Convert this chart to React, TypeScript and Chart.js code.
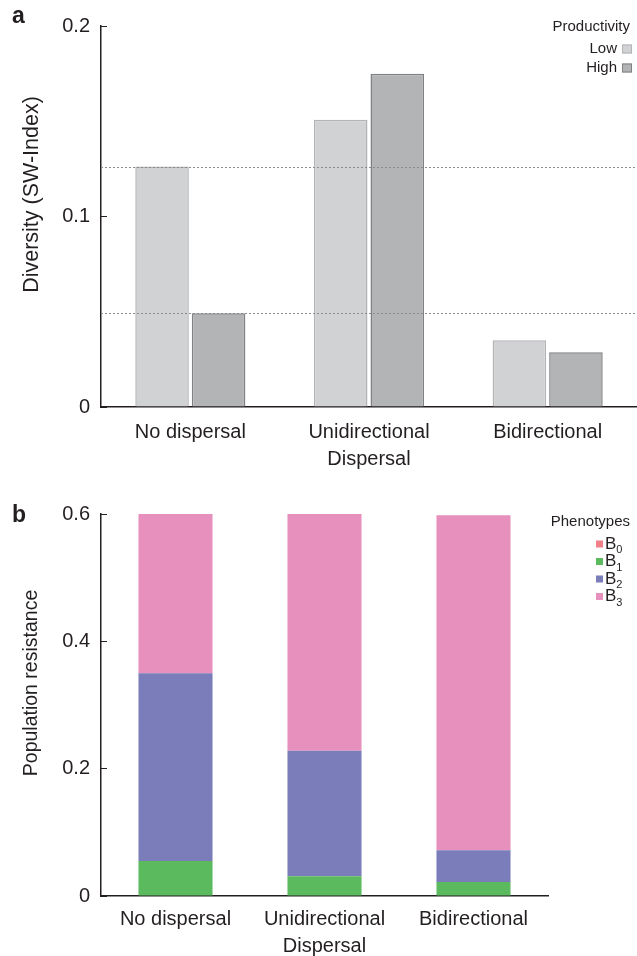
import React, { useEffect, useRef } from "react";
import { Chart, registerables } from "chart.js";
Chart.register(...registerables);

const FONT = "'Liberation Sans', Arial, Helvetica, sans-serif";
const TEXT = "#231f20";

// Panel a
const categoriesA: (string | string[])[] = ["No dispersal", ["Unidirectional", "Dispersal"], "Bidirectional"];
const lowValues = [0.1262, 0.1508, 0.0351];
const highValues = [0.0492, 0.1749, 0.0288];
const yTicksA = [0, 0.1, 0.2];
const referenceValues = [0.1262, 0.0492];
const seriesA = ["Low", "High"];

// Panel b
const categoriesB: (string | string[])[] = ["No dispersal", ["Unidirectional", "Dispersal"], "Bidirectional"];
const b0Values = [0, 0, 0];
const b1Values = [0.055, 0.031, 0.022];
const b2Values = [0.295, 0.197, 0.05];
const b3Values = [0.25, 0.372, 0.526];
const yTicksB = [0, 0.2, 0.4, 0.6];
const phenotypeSubs = ["0", "1", "2", "3"];

const fmt = (v: number) => (v === 0 ? "0" : String(v));

function makePanelPlugin(opts: {
  letter: string;
  dy: number;
  letterY: number;
  yTitle: string;
  yTitleSize: number;
  refLines?: number[];
  legend: "a" | "b";
}) {
  const dy = opts.dy;
  return {
    id: "panelDecor" + opts.letter,
    afterDatasetsDraw(chart: any) {
      const ctx = chart.ctx;
      const y = chart.scales.y;
      const area = chart.chartArea;
      if (opts.refLines) {
        ctx.save();
        ctx.strokeStyle = "#8c8c8c";
        ctx.lineWidth = 1;
        ctx.setLineDash([2, 2]);
        opts.refLines.forEach((v) => {
          const py = Math.round(y.getPixelForValue(v)) + 0.5;
          ctx.beginPath();
          ctx.moveTo(area.left, py);
          ctx.lineTo(area.right, py);
          ctx.stroke();
        });
        ctx.restore();
      }
    },
    afterDraw(chart: any) {
      const ctx = chart.ctx;
      const area = chart.chartArea;
      ctx.save();
      ctx.fillStyle = TEXT;
      // panel letter
      ctx.font = `bold 23px ${FONT}`;
      ctx.textAlign = "left";
      ctx.textBaseline = "middle";
      ctx.fillText(opts.letter, 12, opts.letterY + dy);
      // y title
      ctx.save();
      ctx.font = `${opts.yTitleSize}px ${FONT}`;
      ctx.translate(32, (area.top + area.bottom) / 2 - 22);
      ctx.rotate(-Math.PI / 2);
      ctx.textAlign = "center";
      ctx.textBaseline = "middle";
      ctx.fillText(opts.yTitle, 0, 0);
      ctx.restore();
      // legend
      const ds = chart.data.datasets;
      if (opts.legend === "a") {
        ctx.font = `15px ${FONT}`;
        ctx.textAlign = "right";
        ctx.textBaseline = "middle";
        ctx.fillText("Productivity", 630, 27 + dy);
        ctx.font = `15px ${FONT}`;
        ds.forEach((d: any, i: number) => {
          const cy = 49 + i * 19 + dy;
          ctx.fillStyle = TEXT;
          ctx.fillText(d.label, 617, cy);
          ctx.fillStyle = d.backgroundColor;
          ctx.fillRect(622, cy - 4.5, 10, 9);
          ctx.strokeStyle = d.borderColor;
          ctx.lineWidth = 1;
          ctx.strokeRect(622.5, cy - 4, 9, 8);
        });
      } else {
        ctx.font = `15px ${FONT}`;
        ctx.textAlign = "right";
        ctx.textBaseline = "middle";
        ctx.fillText("Phenotypes", 630, 42 + dy);
        ds.forEach((d: any, i: number) => {
          const cy = 64 + i * 17.5 + dy;
          ctx.fillStyle = d.backgroundColor;
          ctx.fillRect(596, cy - 3.5, 7, 7);
          ctx.fillStyle = TEXT;
          ctx.textAlign = "left";
          ctx.font = `17px ${FONT}`;
          ctx.fillText("B", 605, cy);
          const w = ctx.measureText("B").width;
          ctx.font = `11px ${FONT}`;
          ctx.fillText(phenotypeSubs[i], 605 + w, cy + 6);
        });
      }
      ctx.restore();
    },
  };
}

function yAxis(max: number, ticks: number[]) {
  return {
    min: 0,
    max,
    afterFit: (s: any) => {
      s.width = 101;
    },
    afterBuildTicks: (s: any) => {
      s.ticks = ticks.map((v) => ({ value: v }));
    },
    border: { display: true, color: TEXT, width: 1.5 },
    grid: { drawOnChartArea: false, drawTicks: true, tickLength: -6, color: TEXT },
    ticks: {
      color: TEXT,
      font: { family: FONT, size: 20 },
      padding: 17,
      callback: (v: any) => fmt(Number(v)),
    },
  };
}

function xAxis(height: number, stacked: boolean, padding: number) {
  return {
    stacked,
    afterFit: (s: any) => {
      s.height = height;
    },
    border: { display: true, color: TEXT, width: 1.5 },
    grid: { display: false },
    ticks: {
      color: TEXT,
      font: { family: FONT, size: 20, lineHeight: 1.35 },
      padding,
      maxRotation: 0,
      autoSkip: false,
    },
  };
}

function PanelA() {
  const ref = useRef<HTMLCanvasElement>(null);
  useEffect(() => {
    const chart = new Chart(ref.current!, {
      type: "bar",
      data: {
        labels: categoriesA,
        datasets: [
          {
            label: seriesA[0],
            data: lowValues,
            backgroundColor: "#d1d2d4",
            borderColor: "#b3b4b6",
            borderWidth: 1.5,
            categoryPercentage: 0.633,
            barPercentage: 0.947,
          },
          {
            label: seriesA[1],
            data: highValues,
            backgroundColor: "#b3b4b6",
            borderColor: "#808183",
            borderWidth: 1.5,
            categoryPercentage: 0.633,
            barPercentage: 0.947,
          },
        ],
      },
      options: {
        animation: false,
        responsive: false,
        layout: { padding: { top: 25, right: 0, left: 0, bottom: 0 } },
        plugins: { legend: { display: false }, tooltip: { enabled: false } },
        scales: { x: xAxis(71, false, 4) as any, y: yAxis(0.2, yTicksA) as any },
      },
      plugins: [
        makePanelPlugin({
          letter: "a",
          dy: 3,
          letterY: 17,
          yTitle: "Diversity (SW-Index)",
          yTitleSize: 21.5,
          refLines: referenceValues,
          legend: "a",
        }),
      ],
    });
    return () => chart.destroy();
  }, []);
  return <canvas ref={ref} width={637} height={481} style={{ position: "absolute", left: 0, top: -3 }} />;
}

function PanelB() {
  const ref = useRef<HTMLCanvasElement>(null);
  useEffect(() => {
    const mk = (label: string, data: number[], color: string) => ({
      label,
      data,
      backgroundColor: color,
      borderWidth: 0,
      categoryPercentage: 1,
      barPercentage: 0.497,
    });
    const chart = new Chart(ref.current!, {
      type: "bar",
      data: {
        labels: categoriesB,
        datasets: [
          mk("B0", b0Values, "#f07f88"),
          mk("B1", b1Values, "#5cba5e"),
          mk("B2", b2Values, "#7a7dba"),
          mk("B3", b3Values, "#e890bd"),
        ],
      },
      options: {
        animation: false,
        responsive: false,
        layout: { padding: { top: 34, right: 89, left: 0, bottom: 0 } },
        plugins: { legend: { display: false }, tooltip: { enabled: false } },
        scales: { x: xAxis(60, true, 2) as any, y: { ...(yAxis(0.6, yTicksB) as any), stacked: true } },
      },
      plugins: [
        makePanelPlugin({
          letter: "b",
          dy: 0,
          letterY: 36,
          yTitle: "Population resistance",
          yTitleSize: 19.5,
          legend: "b",
        }),
      ],
    });
    return () => chart.destroy();
  }, []);
  return <canvas ref={ref} width={637} height={476} style={{ position: "absolute", left: 0, top: 480 }} />;
}

export default function App() {
  return (
    <div style={{ position: "fixed", left: 0, top: 0, width: 637, height: 956, background: "#fff", overflow: "hidden" }}>
      <PanelA />
      <PanelB />
    </div>
  );
}
